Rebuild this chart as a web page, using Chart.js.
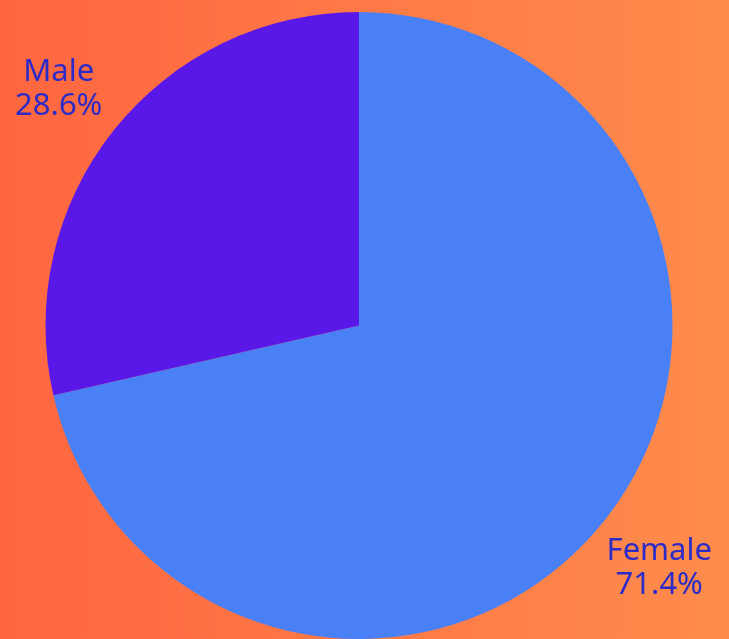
<!DOCTYPE html>
<html>
<head>
<meta charset="utf-8">
<script src="https://cdn.jsdelivr.net/npm/chart.js@4/dist/chart.umd.min.js"></script>
<style>
  html, body { margin: 0; padding: 0; overflow: hidden; }
  body {
    width: 729px; height: 639px;
    background: linear-gradient(to right, #ff6640, #ff8c4c);
  }
  #wrap { position: relative; width: 729px; height: 639px; }
</style>
</head>
<body>
<div id="wrap"><canvas id="myChart"></canvas></div>
<script>
// data
const labels = ['Female', 'Male'];
const values = [5, 2];
const colors = ['#4a80f5', '#5a18e8'];

// labels outside the slices
const outLabels = {
  id: 'outLabels',
  afterDatasetsDraw(chart) {
    const ctx = chart.ctx;
    const meta = chart.getDatasetMeta(0);
    const total = values.reduce((a, b) => a + b, 0);
    ctx.save();
    ctx.fillStyle = '#2b2bc8';
    ctx.font = '31px "Noto Sans"';
    ctx.textAlign = 'center';
    ctx.textBaseline = 'middle';
    meta.data.forEach(function(arc, i) {
      let mid = (arc.startAngle + arc.endAngle) / 2;
      let r = arc.outerRadius * 1.225;
      let x = arc.x + Math.cos(mid) * r;
      let y = arc.y + Math.sin(mid) * r + 3;
      let pct = (values[i] / total * 100).toFixed(1) + '%';
      ctx.fillText(labels[i], x, y - 17);
      ctx.fillText(pct, x, y + 17);
    });
    ctx.restore();
  }
};

const myChart = new Chart(document.getElementById('myChart'), {
  type: 'pie',
  data: {
    labels: labels,
    datasets: [{
      data: values,
      backgroundColor: colors,
      borderWidth: 0
    }]
  },
  options: {
    responsive: true,
    maintainAspectRatio: false,
    animation: false,
    layout: { padding: { top: 12, left: 45, right: 56, bottom: 0 } },
    plugins: {
      legend: { display: false },
      tooltip: { enabled: false }
    }
  },
  plugins: [outLabels]
});
</script>
</body>
</html>
